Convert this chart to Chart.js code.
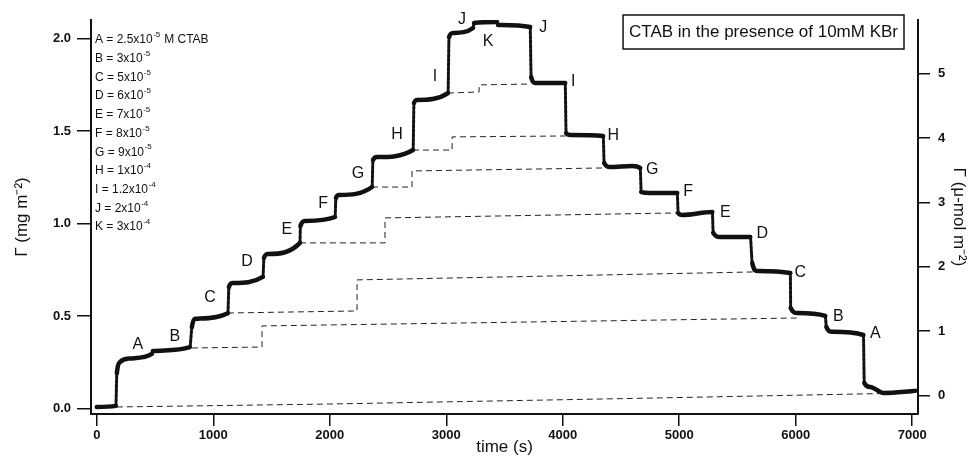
<!DOCTYPE html>
<html>
<head>
<meta charset="utf-8">
<script src="https://cdn.jsdelivr.net/npm/chart.js@4.4.0/dist/chart.umd.min.js"></script>
<style>
  html, body { margin: 0; padding: 0; background: #fff; }
  #wrap { width: 979px; height: 459px; }
</style>
</head>
<body>
<div id="wrap"><canvas id="adsChart" width="979" height="459"></canvas></div>
<script>
// thick adsorption curve: time (s) and Gamma (mg m-2)
var timeS = [0, 163, 172, 198, 284, 473, 481, 799, 816, 842, 1125, 1134, 1168, 1426, 1435, 1469, 1744,
  1748, 1787, 2045, 2053, 2079, 2363, 2371, 2405, 2715, 2723, 2749, 3015, 3024, 3058, 3230, 3239, 3436,
  3445, 3720, 3729, 3763, 4021, 4029, 4064, 4347, 4356, 4407, 4596, 4665, 4674, 4751, 4983, 4991, 5026,
  5284, 5292, 5352, 5610, 5627, 5670, 5954, 5957, 6014, 6254, 6263, 6314, 6581, 6589, 6641, 6753, 7027];
var gamma = [0.008, 0.014, 0.19, 0.25, 0.27, 0.295, 0.31, 0.332, 0.44, 0.485, 0.515, 0.657, 0.678, 0.711,
  0.814, 0.835, 0.895, 0.986, 1.014, 1.035, 1.138, 1.154, 1.197, 1.343, 1.359, 1.397, 1.651, 1.668, 1.705,
  2.008, 2.03, 2.057, 2.084, 2.089, 2.073, 2.062, 1.792, 1.76, 1.76, 1.489, 1.478, 1.473, 1.327, 1.305,
  1.311, 1.30, 1.17, 1.165, 1.165, 1.057, 1.046, 1.062, 0.949, 0.927, 0.927, 0.786, 0.743, 0.732, 0.543,
  0.516, 0.50, 0.441, 0.414, 0.397, 0.138, 0.116, 0.084, 0.095];

// dashed connecting lines
var dashT = [
  [172, 2002, 4837, 7010],
  [816, 1418, 1418, 6014],
  [1125, 2234, 2234, 5640],
  [1744, 2474, 2474, 4983],
  [2363, 2706, 2706, 4347],
  [2715, 3050, 3050, 4025],
  [3015, 3282, 3282, 3729]
];
var dashG = [
  [0.008, 0.024, 0.057, 0.084],
  [0.327, 0.332, 0.446, 0.489],
  [0.516, 0.527, 0.695, 0.738],
  [0.895, 0.895, 1.03, 1.057],
  [1.197, 1.197, 1.284, 1.30],
  [1.397, 1.397, 1.468, 1.473],
  [1.705, 1.711, 1.749, 1.754]
];

// letters on the curve
var stepLetter = ['A','B','C','D','E','F','G','H','I','J','K','J','I','H','G','F','E','D','C','B','A'];
var letterT = [352, 670, 971, 1289, 1632, 1942, 2242, 2577, 2904, 3136, 3359, 3832, 4089, 4433, 4768, 5077, 5395, 5713, 6040, 6366, 6684];
var letterG = [0.343, 0.386, 0.597, 0.792, 0.965, 1.105, 1.268, 1.478, 1.792, 2.1, 1.981, 2.057, 1.765, 1.473, 1.289, 1.17, 1.057, 0.943, 0.732, 0.495, 0.403];

// concentration list
var concLetter = ['A','B','C','D','E','F','G','H','I','J','K'];
var concMant = ['2.5', '3', '5', '6', '7', '8', '9', '1', '1.2', '2', '3'];
var concExp = ['-5', '-5', '-5', '-5', '-5', '-5', '-5', '-4', '-4', '-4', '-4'];

var xTicks = [0, 1000, 2000, 3000, 4000, 5000, 6000, 7000];
var yTicks = [0, 0.5, 1.0, 1.5, 2.0];
var y2Ticks = [0, 1, 2, 3, 4, 5];

var FONT = '"Liberation Sans", Arial, Helvetica, sans-serif';

function isJump(ctx) {
  return Math.abs(ctx.p1.parsed.x - ctx.p0.parsed.x) < 20;
}

var datasets = [{
  data: timeS.map(function (t, i) { return { x: t, y: gamma[i] }; }),
  borderColor: '#111',
  borderWidth: 4.5,
  pointRadius: 0,
  cubicInterpolationMode: 'monotone',
  borderJoinStyle: 'round',
  borderCapStyle: 'round',
  segment: {
    borderWidth: function (ctx) { return isJump(ctx) ? 3 : undefined; },
    borderDash: function (ctx) { return isJump(ctx) ? [3, 1.5] : undefined; }
  }
}];
for (var k = 0; k < dashT.length; k++) {
  datasets.push({
    data: dashT[k].map(function (t, i) { return { x: t, y: dashG[this][i] }; }, k),
    borderColor: '#222',
    borderWidth: 1,
    borderDash: [6, 4],
    pointRadius: 0
  });
}

var textPlugin = {
  id: 'textPlugin',
  afterDraw: function (chart) {
    var c = chart.ctx, xs = chart.scales.x, ys = chart.scales.y, area = chart.chartArea;
    c.save();
    c.fillStyle = '#111';
    c.textBaseline = 'middle';

    // step letters
    c.font = '16px ' + FONT;
    c.textAlign = 'center';
    for (var i = 0; i < stepLetter.length; i++) {
      c.fillText(stepLetter[i], xs.getPixelForValue(letterT[i]), ys.getPixelForValue(letterG[i]));
    }

    // concentration list
    c.textAlign = 'left';
    var lx = area.left + 4, ly = area.top + 20;
    for (var j = 0; j < concLetter.length; j++) {
      var y = ly + j * 18.7;
      var s = concLetter[j] + ' = ' + concMant[j] + 'x10';
      c.font = '12px ' + FONT;
      c.fillText(s, lx, y);
      var w = c.measureText(s).width;
      c.font = '8px ' + FONT;
      c.fillText(concExp[j], lx + w + 0.5, y - 5);
      if (j === 0) {
        var w2 = c.measureText(concExp[j]).width;
        c.font = '12px ' + FONT;
        c.fillText(' M CTAB', lx + w + w2 + 1, y);
      }
    }

    // boxed title
    c.font = '17px ' + FONT;
    var title = 'CTAB in the presence of 10mM KBr';
    var tw = c.measureText(title).width;
    var right = area.right - 14, top = area.top - 5;
    c.strokeStyle = '#111';
    c.lineWidth = 1.5;
    c.strokeRect(right - tw - 12, top, tw + 12, 34);
    c.fillText(title, right - tw - 6, top + 17.5);
    c.restore();
  }
};

var axisGrid = { display: true, drawOnChartArea: false, drawTicks: true, tickLength: 12, color: '#111', lineWidth: 1.5 };
var axisBorder = { display: true, color: '#111', width: 2 };
var tickFont = { family: FONT, size: 13, weight: 'bold' };
var titleFont = { family: FONT, size: 17 };

new Chart(document.getElementById('adsChart'), {
  type: 'line',
  data: { datasets: datasets },
  options: {
    responsive: false,
    animation: false,
    layout: { padding: { top: 20, left: 0, right: 0, bottom: 0 } },
    plugins: { legend: { display: false }, tooltip: { enabled: false } },
    scales: {
      x: {
        type: 'linear', min: -50, max: 7050,
        grid: axisGrid, border: axisBorder,
        afterBuildTicks: function (s) { s.ticks = xTicks.map(function (v) { return { value: v }; }); },
        afterFit: function (s) { s.height = 45; },
        ticks: { color: '#111', font: tickFont, padding: 2, maxRotation: 0, callback: function (v) { return String(v); } },
        title: { display: true, text: 'time (s)', color: '#111', font: titleFont, padding: { top: 0, bottom: 1 } }
      },
      y: {
        type: 'linear', position: 'left', min: -0.03, max: 2.1,
        grid: Object.assign({}, axisGrid, { tickLength: 14 }), border: axisBorder,
        afterBuildTicks: function (s) { s.ticks = yTicks.map(function (v) { return { value: v }; }); },
        afterFit: function (s) { s.width = 91; },
        ticks: { color: '#111', font: tickFont, padding: 6, callback: function (v) { return v.toFixed(1); } },
        title: { display: true, text: 'Γ (mg m⁻²)', color: '#111', font: titleFont, padding: { top: 12, bottom: 0 } }
      },
      y2: {
        type: 'linear', position: 'right', min: -0.287, max: 5.834,
        grid: axisGrid, border: axisBorder,
        afterBuildTicks: function (s) { s.ticks = y2Ticks.map(function (v) { return { value: v }; }); },
        afterFit: function (s) { s.width = 61; },
        ticks: { color: '#111', font: tickFont, padding: 8 },
        title: { display: true, text: 'Γ (μ-mol m⁻²)', color: '#111', font: titleFont, padding: { top: 10, bottom: 0 } }
      }
    }
  },
  plugins: [textPlugin]
});
</script>
</body>
</html>
